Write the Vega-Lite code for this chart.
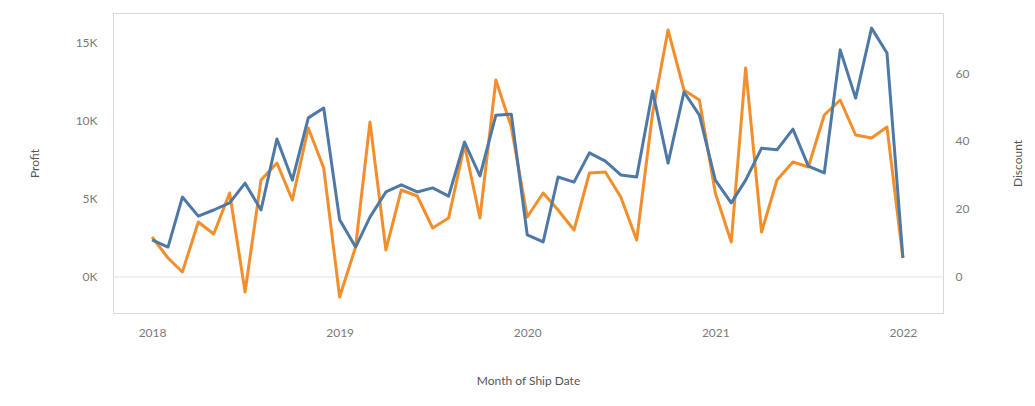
{
  "$schema": "https://vega.github.io/schema/vega-lite/v6.json",
  "width": 830,
  "height": 300,
  "autosize": {"type": "none"},
  "padding": {"left": 113, "top": 13, "right": 92, "bottom": 93},
  "background": "white",
  "config": {
    "font": "Lato",
    "view": {"stroke": "#d9d9d9", "strokeWidth": 1},
    "axis": {
      "grid": false, "ticks": false, "domain": false,
      "labelColor": "#7a7a7a", "labelFontSize": 12, "labelFont": "Lato",
      "titleColor": "#555555", "titleFontSize": 12, "titleFontWeight": "normal", "titleFont": "Lato"
    }
  },
  "data": {"values": [
    {"month": "2018-01-01", "Profit": 2564, "Discount": 10.9},
    {"month": "2018-02-01", "Profit": 1218, "Discount": 8.8},
    {"month": "2018-03-01", "Profit": 320, "Discount": 23.5},
    {"month": "2018-04-01", "Profit": 3526, "Discount": 17.9},
    {"month": "2018-05-01", "Profit": 2756, "Discount": 19.7},
    {"month": "2018-06-01", "Profit": 5385, "Discount": 21.8},
    {"month": "2018-07-01", "Profit": -962, "Discount": 27.6},
    {"month": "2018-08-01", "Profit": 6218, "Discount": 19.7},
    {"month": "2018-09-01", "Profit": 7308, "Discount": 40.6},
    {"month": "2018-10-01", "Profit": 4936, "Discount": 28.5},
    {"month": "2018-11-01", "Profit": 9551, "Discount": 46.8},
    {"month": "2018-12-01", "Profit": 6987, "Discount": 49.7},
    {"month": "2019-01-01", "Profit": -1282, "Discount": 16.8},
    {"month": "2019-02-01", "Profit": 1923, "Discount": 8.8},
    {"month": "2019-03-01", "Profit": 9936, "Discount": 17.6},
    {"month": "2019-04-01", "Profit": 1731, "Discount": 25.0},
    {"month": "2019-05-01", "Profit": 5577, "Discount": 27.1},
    {"month": "2019-06-01", "Profit": 5192, "Discount": 25.0},
    {"month": "2019-07-01", "Profit": 3141, "Discount": 26.2},
    {"month": "2019-08-01", "Profit": 3782, "Discount": 23.8},
    {"month": "2019-09-01", "Profit": 8462, "Discount": 39.7},
    {"month": "2019-10-01", "Profit": 3782, "Discount": 29.7},
    {"month": "2019-11-01", "Profit": 12628, "Discount": 47.6},
    {"month": "2019-12-01", "Profit": 9615, "Discount": 47.9},
    {"month": "2020-01-01", "Profit": 3846, "Discount": 12.4},
    {"month": "2020-02-01", "Profit": 5385, "Discount": 10.3},
    {"month": "2020-03-01", "Profit": 4295, "Discount": 29.4},
    {"month": "2020-04-01", "Profit": 3013, "Discount": 27.9},
    {"month": "2020-05-01", "Profit": 6667, "Discount": 36.5},
    {"month": "2020-06-01", "Profit": 6731, "Discount": 34.1},
    {"month": "2020-07-01", "Profit": 5128, "Discount": 30.0},
    {"month": "2020-08-01", "Profit": 2372, "Discount": 29.4},
    {"month": "2020-09-01", "Profit": 10513, "Discount": 54.7},
    {"month": "2020-10-01", "Profit": 15833, "Discount": 33.5},
    {"month": "2020-11-01", "Profit": 11987, "Discount": 54.4},
    {"month": "2020-12-01", "Profit": 11346, "Discount": 47.6},
    {"month": "2021-01-01", "Profit": 5385, "Discount": 28.5},
    {"month": "2021-02-01", "Profit": 2244, "Discount": 21.8},
    {"month": "2021-03-01", "Profit": 13397, "Discount": 28.5},
    {"month": "2021-04-01", "Profit": 2885, "Discount": 37.9},
    {"month": "2021-05-01", "Profit": 6218, "Discount": 37.4},
    {"month": "2021-06-01", "Profit": 7372, "Discount": 43.5},
    {"month": "2021-07-01", "Profit": 7051, "Discount": 32.6},
    {"month": "2021-08-01", "Profit": 10385, "Discount": 30.6},
    {"month": "2021-09-01", "Profit": 11346, "Discount": 66.8},
    {"month": "2021-10-01", "Profit": 9103, "Discount": 52.6},
    {"month": "2021-11-01", "Profit": 8910, "Discount": 73.2},
    {"month": "2021-12-01", "Profit": 9615, "Discount": 65.9},
    {"month": "2022-01-01", "Profit": 1218, "Discount": 5.6}
  ]},
  "layer": [
    {
      "layer": [
        {
          "data": {"values": [{}]},
          "mark": {"type": "rule", "color": "#e3e3e3", "strokeWidth": 1},
          "encoding": {"y": {"datum": 0, "type": "quantitative"}}
        },
        {
          "mark": {"type": "line", "color": "#f28e2b", "strokeWidth": 3, "strokeJoin": "round"},
          "encoding": {
            "x": {
              "field": "month", "type": "temporal",
              "scale": {"type": "utc", "domain": [{"year": 2017, "month": 10, "date": 17, "utc": true}, {"year": 2022, "month": 3, "date": 20, "utc": true}]},
              "axis": {"title": "Month of Ship Date", "format": "%Y", "labelPadding": 14, "titlePadding": 37,
                "values": [{"year": 2018, "month": 1, "date": 1, "utc": true}, {"year": 2019, "month": 1, "date": 1, "utc": true}, {"year": 2020, "month": 1, "date": 1, "utc": true}, {"year": 2021, "month": 1, "date": 1, "utc": true}, {"year": 2022, "month": 1, "date": 1, "utc": true}]}
            },
            "y": {
              "field": "Profit", "type": "quantitative",
              "scale": {"domain": [-2308, 16923], "nice": false, "zero": false},
              "axis": {"title": "Profit", "orient": "left", "values": [0, 5000, 10000, 15000], "labelExpr": "datum.value / 1000 + 'K'", "labelPadding": 16, "titlePadding": 34}
            }
          }
        }
      ]
    },
    {
      "mark": {"type": "line", "color": "#4e79a7", "strokeWidth": 3, "strokeJoin": "round"},
      "encoding": {
        "x": {
          "field": "month", "type": "temporal",
          "scale": {"type": "utc", "domain": [{"year": 2017, "month": 10, "date": 17, "utc": true}, {"year": 2022, "month": 3, "date": 20, "utc": true}]},
          "axis": {"title": "Month of Ship Date", "format": "%Y", "labelPadding": 14, "titlePadding": 37,
            "values": [{"year": 2018, "month": 1, "date": 1, "utc": true}, {"year": 2019, "month": 1, "date": 1, "utc": true}, {"year": 2020, "month": 1, "date": 1, "utc": true}, {"year": 2021, "month": 1, "date": 1, "utc": true}, {"year": 2022, "month": 1, "date": 1, "utc": true}]}
        },
        "y": {
          "field": "Discount", "type": "quantitative",
          "scale": {"domain": [-10.6, 77.65], "nice": false, "zero": false},
          "axis": {"title": "Discount", "orient": "right", "values": [0, 20, 40, 60], "labelPadding": 12, "titlePadding": 56, "titleAngle": 270}
        }
      }
    }
  ],
  "resolve": {"scale": {"y": "independent"}}
}
